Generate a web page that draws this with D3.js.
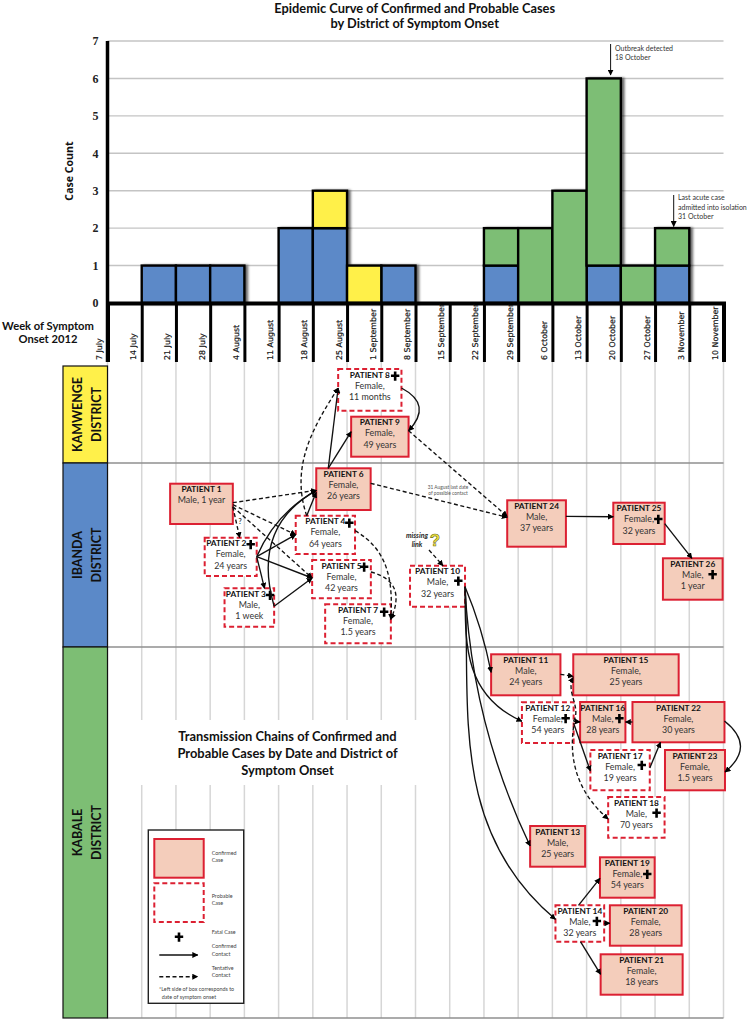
<!DOCTYPE html>
<html>
<head>
<meta charset="utf-8">
<title>Epidemic curve and transmission chains</title>
<script src="https://cdn.jsdelivr.net/npm/d3@7"></script>
<style>
  html, body { margin: 0; padding: 0; background: #fff; }
  svg { display: block; }
  text { font-family: Lato, "Open Sans", sans-serif; }
</style>
</head>
<body>
<div id="chart"></div>
<script>
// week of symptom onset, cases per week by district
const weeks = ["7 July", "14 July", "21 July", "28 July", "4 August", "11 August", "18 August",
  "25 August", "1 September", "8 September", "15 September", "22 September", "29 September",
  "6 October", "13 October", "20 October", "27 October", "3 November", "10 November"];
const ibandaCases =   [0, 1, 1, 1, 0, 2, 2, 0, 1, 0, 0, 1, 0, 0, 1, 0, 1, 0];
const kamwengeCases = [0, 0, 0, 0, 0, 0, 1, 1, 0, 0, 0, 0, 0, 0, 0, 0, 0, 0];
const kabaleCases =   [0, 0, 0, 0, 0, 0, 0, 0, 0, 0, 0, 1, 2, 3, 5, 1, 1, 0];
const caseTicks = [0, 1, 2, 3, 4, 5, 6, 7];

const districts = ["Ibanda", "Kamwenge", "Kabale"];

// patients 1 to 26: sex, age, confirmed?, fatal?, onset in weeks after 7 July
const patientSex = ["Male", "Female", "Male", "Female", "Female", "Female", "Female", "Female", "Female",
  "Male", "Male", "Female", "Male", "Male", "Female", "Male", "Female", "Male", "Female", "Female",
  "Female", "Female", "Female", "Male", "Female", "Male"];
const patientAge = ["1 year", "24 years", "1 week", "64 years", "42 years", "26 years", "1.5 years", "11 months",
  "49 years", "32 years", "24 years", "54 years", "25 years", "32 years", "25 years", "28 years", "19 years",
  "70 years", "54 years", "28 years", "18 years", "30 years", "1.5 years", "37 years", "32 years", "1 year"];
const confirmed = [1, 0, 0, 0, 0, 1, 0, 0, 1, 0, 1, 0, 1, 0, 1, 1, 0, 0, 1, 1, 1, 1, 1, 1, 1, 1];
const fatal =     [0, 1, 1, 1, 1, 0, 1, 1, 0, 1, 0, 1, 0, 1, 0, 1, 1, 1, 1, 0, 0, 0, 0, 0, 1, 1];
const onsetWeek = [1.83, 2.84, 3.42, 5.50, 5.98, 6.10, 6.36, 6.74, 7.12, 8.84, 11.21, 12.11, 12.35, 13.09,
  13.61, 13.81, 14.11, 14.63, 14.39, 14.68, 14.41, 15.34, 16.29, 11.68, 14.78, 16.23];

// contacts: from, to, tentative?
const contacts = [
  [1, 6, 1], [1, 2, 1], [1, 4, 1], [1, 5, 1], [4, 8, 1], [6, 8, 0], [6, 9, 0], [8, 9, 0],
  [2, 3, 0], [2, 4, 0], [2, 5, 0], [2, 6, 0], [3, 6, 0], [3, 5, 0], [4, 6, 0], [4, 7, 1], [5, 7, 1],
  [0, 10, 1], [9, 24, 1], [6, 24, 1], [24, 25, 0], [25, 26, 0],
  [10, 11, 0], [10, 12, 0], [10, 13, 0], [10, 14, 0], [11, 15, 1], [12, 15, 1], [12, 16, 0], [12, 17, 0],
  [12, 18, 1], [17, 22, 0], [22, 16, 0], [22, 23, 0], [14, 19, 0], [14, 20, 0], [14, 21, 0]
];

// layout only, no data from here down
const width = 749, height = 1020;
const x0 = 107.5, x1 = 723.5;
const plotTop = 41, plotBottom = 303, tickEnd = 362, gridEnd = 1018;

// box top, width, height, title nudge, cross offset from box left/top
const boxLayout = {
  1: [483.7, 62.7, 40.3, 0],
  2: [537.7, 52, 38.3, -4.5, 46, 6.5],
  3: [588.3, 49.6, 38.4, -3.5, 45.5, 6.7],
  4: [515.7, 59.3, 38.3, 0, 53.6, 7],
  5: [560, 58.7, 38.3, 0, 52, 6.7],
  6: [468.3, 54.4, 41.7, 0],
  7: [604.3, 65.7, 39, 0, 59, 7.4],
  8: [369, 63.3, 41.7, 0, 57, 6.7],
  9: [416.7, 57.4, 40, 0],
  10: [565.7, 55, 41, 0, 48.3, 15],
  11: [654.3, 69.3, 41, 0],
  12: [702.3, 51.7, 40.7, 0, 43.7, 16],
  13: [826, 55, 40.7, 0],
  14: [905.3, 48.7, 36.4, 0, 41.4, 15.7],
  15: [654.3, 105.4, 41, 0],
  16: [702, 45.3, 40.3, 0, 39.3, 16.3],
  17: [750, 59.4, 40.3, 0, 51.4, 15],
  18: [797, 56.4, 40.7, 0, 48.4, 15.7],
  19: [857.3, 54.7, 40.4, 0, 47.3, 16.7],
  20: [905.3, 71.7, 40.4, 0],
  21: [954.3, 82, 40.4, 0],
  22: [702, 92, 40.3, 0],
  23: [750, 60, 40.3, 0],
  24: [500.3, 58.7, 46.4, 0],
  25: [502.7, 51.4, 41.3, 0, 45, 16.3],
  26: [558.3, 59.7, 41.4, 0, 49.7, 16]
};

// where each contact leaves and enters a box, and how it bends
const linkLayout = [
  ["r", 19, "l", 22], ["r", 23, "t", 35], ["r", 21, "l", 19], ["r", 23, "l", 18],
  ["t", 11, "l", 19, 28, 15], ["t", 12, "l", 19], ["t", 12, "l", 15], ["r", 19, "r", 14, 19, 19],
  ["r", 19, "t", 40], ["r", 19, "l", 19], ["r", 19, "l", 18], ["r", 19, "l", 22, 10, 10],
  ["r", 18, "l", 22, 30, 35], ["r", 18, "l", 18], ["t", 11, "l", 24], ["r", 15, "r", 15, 25, 15], ["r", 12, "r", 15, 22, 18],
  ["r", 0, "t", 33], ["r", 14, "l", 16], ["r", 15, "l", 17], ["r", 16, "l", 14], ["r", 21, "t", 29],
  ["r", 21, "l", 18, 3, 3], ["r", 21, "l", 19, -20, -45], ["r", 21, "l", 20, -18, -18], ["r", 21, "l", 14, -25, -80],
  ["r", 20, "l", 22], ["r", 19, "l", 23, -8, 8], ["r", 19, "l", 20], ["r", 21, "l", 21],
  ["r", 24, "l", 22, -18, -18], ["r", 18, "b", 28], ["l", 20, "r", 20], ["r", 19, "r", 22, 21, 21],
  ["t", 23, "l", 21], ["r", 18, "l", 18], ["b", 25, "l", 20]
];

const colors = { Ibanda: "#5b89c8", Kamwenge: "#fff04a", Kabale: "#7dbe74" };
const laneBands = [
  { name: "Kamwenge", lines: ["KAMWENGE", "DISTRICT"], top: 366, bottom: 463 },
  { name: "Ibanda", lines: ["IBANDA", "DISTRICT"], top: 463, bottom: 647 },
  { name: "Kabale", lines: ["KABALE", "DISTRICT"], top: 647, bottom: 1018 }
];

const svg = d3.select("#chart").append("svg")
  .attr("width", width)
  .attr("height", height)
  .attr("viewBox", [0, 0, width, height]);

const defs = svg.append("defs");
defs.append("marker")
  .attr("id", "head")
  .attr("viewBox", "0 0 10 10")
  .attr("refX", 9).attr("refY", 5)
  .attr("markerUnits", "userSpaceOnUse")
  .attr("markerWidth", 6).attr("markerHeight", 6)
  .attr("orient", "auto")
  .append("path").attr("d", "M0,0L10,5L0,10Z").attr("fill", "#000");
const shadow = defs.append("filter").attr("id", "barShadow")
  .attr("x", "-20%").attr("y", "-20%").attr("width", "150%").attr("height", "150%");
shadow.append("feDropShadow").attr("dx", 2.5).attr("dy", 0.5).attr("stdDeviation", 1)
  .attr("flood-color", "#000").attr("flood-opacity", 0.6);

const x = d3.scaleLinear().domain([0, weeks.length - 1]).range([x0, x1]);
const y = d3.scaleLinear().domain([0, 7]).range([plotBottom, plotTop]);

// light weekly grid running down through the transmission chart
svg.append("g").selectAll("line")
  .data(weeks)
  .join("line")
  .attr("x1", (d, i) => x(i)).attr("x2", (d, i) => x(i))
  .attr("y1", tickEnd).attr("y2", gridEnd)
  .attr("stroke", "#d6d6d6").attr("stroke-width", 1.5);

// white patch behind the second title
svg.append("rect")
  .attr("x", x0 + 2).attr("y", 720).attr("width", 333).attr("height", 65)
  .attr("fill", "#fff");

// district lanes
laneBands.forEach(b => {
  svg.append("line")
    .attr("x1", x0).attr("x2", x1).attr("y1", b.bottom).attr("y2", b.bottom)
    .attr("stroke", "#8f8f8f").attr("stroke-width", 1.5);
  svg.append("rect")
    .attr("x", 63).attr("y", b.top).attr("width", x0 - 63).attr("height", b.bottom - b.top)
    .attr("fill", colors[b.name]).attr("stroke", "#111").attr("stroke-width", 1.2);
  const cy = (b.top + b.bottom) / 2;
  b.lines.forEach((t, i) => {
    svg.append("text")
      .attr("transform", `translate(${81.5 + i * 19},${cy}) rotate(-90) scale(0.89,1)`)
      .attr("text-anchor", "middle")
      .attr("font-size", 14).attr("font-weight", 700).attr("fill", "#111")
      .text(t);
  });
});

// y axis + gridlines
const yAxis = svg.append("g")
  .attr("transform", `translate(${x0},0)`)
  .call(d3.axisLeft(y).tickValues(caseTicks).tickFormat(d3.format("d")).tickSize(0).tickPadding(9));
yAxis.select(".domain").remove();
yAxis.selectAll("text")
  .style("font-family", "'Liberation Serif', serif")
  .attr("font-size", 12).attr("font-weight", 700).attr("fill", "#222");
svg.append("g").selectAll("line")
  .data(caseTicks.slice(1))
  .join("line")
  .attr("x1", x0).attr("x2", x1)
  .attr("y1", d => y(d)).attr("y2", d => y(d))
  .attr("stroke", "#c4c4c4").attr("stroke-width", 1.4);

// stacked bars, blue at the bottom
const stackRows = weeks.slice(0, -1).map((w, i) => ({
  i, Ibanda: ibandaCases[i], Kamwenge: kamwengeCases[i], Kabale: kabaleCases[i]
}));
const series = d3.stack().keys(districts)(stackRows);

svg.append("g").attr("filter", "url(#barShadow)")
  .selectAll("g")
  .data(series)
  .join("g")
  .attr("fill", d => colors[d.key])
  .selectAll("rect")
  .data(d => d.filter(s => s[1] > s[0]))
  .join("rect")
  .attr("x", d => x(d.data.i))
  .attr("y", d => y(d[1]))
  .attr("width", d => x(d.data.i + 1) - x(d.data.i))
  .attr("height", d => y(d[0]) - y(d[1]))
  .attr("stroke", "#000")
  .attr("stroke-width", 2.4);

// x axis, thick ticks with labels on their left
const xAxis = svg.append("g")
  .attr("transform", `translate(0,${plotBottom})`)
  .call(d3.axisBottom(x).tickValues(d3.range(weeks.length)).tickFormat(i => weeks[i]).tickSize(tickEnd - plotBottom));
xAxis.select(".domain").attr("stroke", "#000").attr("stroke-width", 4);
xAxis.selectAll(".tick line").attr("stroke", "#000").attr("stroke-width", 3);
xAxis.selectAll(".tick text")
  .attr("transform", `rotate(-90) translate(${-(tickEnd - plotBottom) + 2},-6)`)
  .attr("x", 0).attr("y", 0).attr("dy", 0)
  .attr("text-anchor", "start")
  .style("font-family", "'DejaVu Sans', sans-serif")
  .attr("font-size", 7.9).attr("font-weight", 400).attr("fill", "#111")
  .attr("stroke", "#111").attr("stroke-width", 0.2);

// y axis line drawn last so the bars butt up against it
svg.append("line")
  .attr("x1", x0).attr("x2", x0).attr("y1", plotTop).attr("y2", tickEnd)
  .attr("stroke", "#000").attr("stroke-width", 3.5);

// titles and labels
function textBlock(parent, lines, xp, yp, step, size, weight, anchor, fill) {
  lines.forEach((t, i) => {
    parent.append("text")
      .attr("x", xp).attr("y", yp + i * step)
      .attr("text-anchor", anchor || "middle")
      .attr("dominant-baseline", "middle")
      .attr("font-size", size)
      .attr("font-weight", weight || 400)
      .attr("fill", fill || "#111")
      .text(t);
  });
}
textBlock(svg, ["Epidemic Curve of Confirmed and Probable Cases", "by District of Symptom Onset"], 414.7, 9.5, 15, 12.8, 700);
textBlock(svg, ["Week of Symptom", "Onset 2012"], 48, 327.5, 13, 11.2, 700);
textBlock(svg, ["Transmission Chains of Confirmed and", "Probable Cases by Date and District of", "Symptom Onset"], 287.5, 737.7, 17, 12.9, 700);
svg.append("text")
  .attr("transform", "translate(73,171) rotate(-90)")
  .attr("text-anchor", "middle")
  .style("font-family", "'Open Sans', sans-serif")
  .attr("font-size", 10.6).attr("font-weight", 700).attr("fill", "#111")
  .text("Case Count");

// annotations on the curve
textBlock(svg, ["Outbreak detected", "18 October"], 615, 49.3, 9, 7, 400, "start", "#333");
textBlock(svg, ["Last acute case", "admitted into isolation", "31 October"], 678, 198.7, 9.3, 7, 400, "start", "#333");
[[610.6, 44, 75], [673.7, 195, 226.5]].forEach(a => {
  svg.append("line")
    .attr("x1", a[0]).attr("x2", a[0]).attr("y1", a[1]).attr("y2", a[2])
    .attr("stroke", "#111").attr("stroke-width", 1)
    .attr("marker-end", "url(#head)");
});

// patients
const patients = patientSex.map((sex, i) => {
  const id = i + 1, l = boxLayout[id];
  return {
    id, sex, age: patientAge[i], confirmed: confirmed[i], fatal: fatal[i],
    x: x(onsetWeek[i]), y: l[0], w: l[1], h: l[2], titleDx: l[3], crossX: l[4], crossY: l[5]
  };
});
const byId = new Map(patients.map(p => [p.id, p]));
byId.set(0, { x: 428, y: 550, w: 1, h: 1 }); // the missing link has no box

function anchor(p, side, off) {
  if (side === "r") return [p.x + p.w, p.y + off];
  if (side === "l") return [p.x, p.y + off];
  if (side === "t") return [p.x + off, p.y];
  return [p.x + off, p.y + p.h];
}
function linkPath(c, l) {
  const a = anchor(byId.get(c[0]), l[0], l[1]);
  const b = anchor(byId.get(c[1]), l[2], l[3]);
  const dx = b[0] - a[0], dy = b[1] - a[1], len = Math.hypot(dx, dy);
  const nx = dy / len, ny = -dx / len;
  const p = d3.path();
  p.moveTo(a[0], a[1]);
  if (l[4] === undefined) p.lineTo(b[0], b[1]);
  else p.bezierCurveTo(a[0] + dx / 3 + nx * l[4], a[1] + dy / 3 + ny * l[4],
    a[0] + 2 * dx / 3 + nx * l[5], a[1] + 2 * dy / 3 + ny * l[5], b[0], b[1]);
  return p.toString();
}
function crossPath(cx, cy, s) {
  return `M${cx - s},${cy}H${cx + s}M${cx},${cy - s}V${cy + s * 1.2}`;
}

const boxes = svg.append("g").selectAll("g")
  .data(patients)
  .join("g");
boxes.append("rect")
  .attr("x", d => d.x).attr("y", d => d.y)
  .attr("width", d => d.w).attr("height", d => d.h)
  .attr("fill", d => d.confirmed ? "#f4cdbb" : "#fff")
  .attr("stroke", "#dc2032")
  .attr("stroke-width", 2)
  .attr("stroke-dasharray", d => d.confirmed ? null : "5,3");
boxes.append("text")
  .attr("x", d => d.x + d.w / 2 + d.titleDx).attr("y", d => d.y + 6.5)
  .attr("text-anchor", "middle").attr("dominant-baseline", "middle")
  .attr("font-size", 8.3).attr("font-weight", 700).attr("fill", "#111")
  .text(d => "PATIENT " + d.id);
boxes.append("text")
  .attr("x", d => d.x + d.w / 2).attr("y", d => d.y + 17.5)
  .attr("text-anchor", "middle").attr("dominant-baseline", "middle")
  .attr("font-size", 8.9).attr("fill", "#333")
  .text(d => d.id === 1 ? d.sex + ", " + d.age : d.sex + ",");
boxes.filter(d => d.id !== 1).append("text")
  .attr("x", d => d.x + d.w / 2).attr("y", d => d.y + 28.7)
  .attr("text-anchor", "middle").attr("dominant-baseline", "middle")
  .attr("font-size", 8.9).attr("fill", "#333")
  .text(d => d.age);

boxes.filter(d => d.fatal).append("path")
  .attr("d", d => crossPath(d.x + d.crossX, d.y + d.crossY, 4.2))
  .attr("stroke", "#000").attr("stroke-width", 2.6).attr("fill", "none");

// contacts
svg.append("g").selectAll("path")
  .data(contacts)
  .join("path")
  .attr("d", (d, i) => linkPath(d, linkLayout[i]))
  .attr("fill", "none")
  .attr("stroke", "#111")
  .attr("stroke-width", 1.35)
  .attr("stroke-dasharray", d => d[2] ? "4,2.6" : null)
  .attr("marker-end", "url(#head)");

// small notes on the network
textBlock(svg, ["31 August last date", "of possible contact"], 448, 488, 6, 4.8, 400, "middle", "#555");
svg.append("text").attr("x", 240).attr("y", 524).attr("text-anchor", "middle")
  .attr("font-size", 7).attr("font-weight", 700).attr("fill", "#333").text("?");
svg.selectAll(".missing").data(["missing", "link"]).join("text")
  .attr("class", "missing")
  .attr("x", 417).attr("y", (d, i) => 536.7 + i * 9)
  .attr("text-anchor", "middle").attr("dominant-baseline", "middle")
  .attr("font-size", 7).attr("font-weight", 700).attr("font-style", "italic").attr("fill", "#222")
  .text(d => d);
svg.append("text")
  .attr("x", 435).attr("y", 546).attr("text-anchor", "middle")
  .style("font-family", "'Liberation Sans', sans-serif")
  .attr("font-size", 17).attr("font-weight", 700)
  .attr("fill", "#f7ea3c").attr("stroke", "#6b6b20").attr("stroke-width", 0.6)
  .text("?");

// legend
const legend = svg.append("g");
legend.append("rect")
  .attr("x", 148.3).attr("y", 830).attr("width", 95.4).attr("height", 173.3)
  .attr("fill", "#fff").attr("stroke", "#222").attr("stroke-width", 1.4);
legend.append("rect")
  .attr("x", 154.3).attr("y", 839).attr("width", 49.4).attr("height", 38.7)
  .attr("fill", "#f4cdbb").attr("stroke", "#dc2032").attr("stroke-width", 2);
legend.append("rect")
  .attr("x", 154.3).attr("y", 883.3).attr("width", 49.4).attr("height", 38.7)
  .attr("fill", "#fff").attr("stroke", "#dc2032").attr("stroke-width", 2).attr("stroke-dasharray", "5,3");
legend.append("path")
  .attr("d", crossPath(179, 936.7, 4.2))
  .attr("stroke", "#000").attr("stroke-width", 2.6).attr("fill", "none");
[[955, null], [976.7, "4,2.6"]].forEach(r => {
  legend.append("line")
    .attr("x1", 159.3).attr("x2", 197.7).attr("y1", r[0]).attr("y2", r[0])
    .attr("stroke", "#111").attr("stroke-width", 1.35)
    .attr("stroke-dasharray", r[1])
    .attr("marker-end", "url(#head)");
});
textBlock(legend, ["Confirmed", "Case"], 211.7, 853.3, 7.4, 5.4, 400, "start", "#444");
textBlock(legend, ["Probable", "Case"], 211.7, 896.7, 7.4, 5.4, 400, "start", "#444");
textBlock(legend, ["Fatal Case"], 211.7, 932.7, 7.4, 5.4, 400, "start", "#444");
textBlock(legend, ["Confirmed", "Contact"], 211.7, 947, 7.4, 5.4, 400, "start", "#444");
textBlock(legend, ["Tentative", "Contact"], 211.7, 968.7, 7.4, 5.4, 400, "start", "#444");
textBlock(legend, ["*Left side of box corresponds to"], 159, 990, 7.7, 5.4, 400, "start", "#444");
textBlock(legend, ["date of symptom onset"], 161.7, 997.7, 7.7, 5.4, 400, "start", "#444");
</script>
</body>
</html>
